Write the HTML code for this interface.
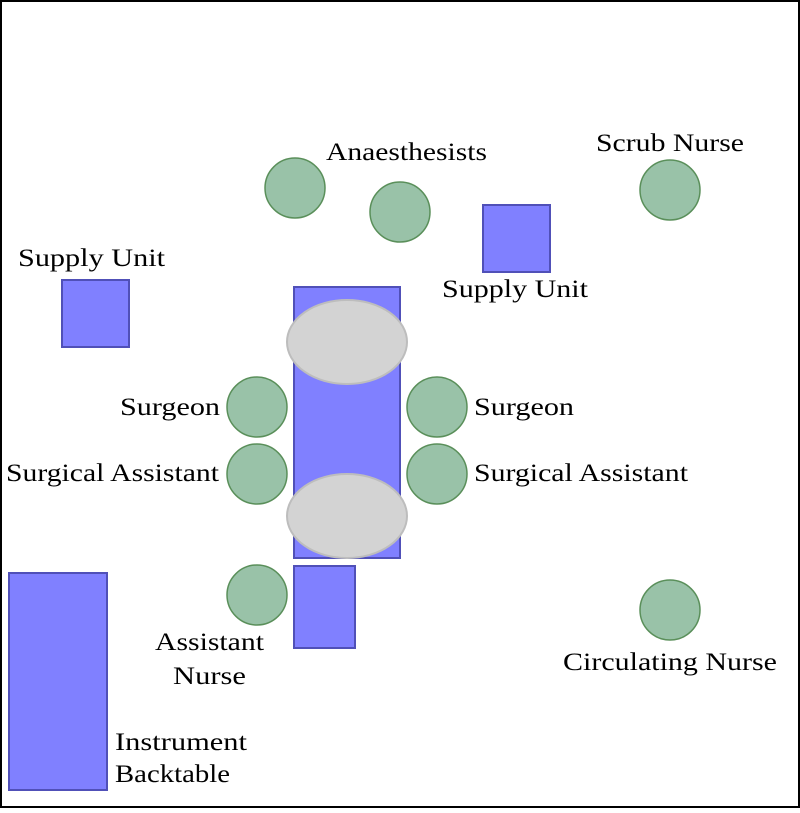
<!DOCTYPE html>
<html><head><style>body{margin:0;background:#fff}</style></head><body>
<svg width="800" height="808" viewBox="0 0 800 808" xmlns="http://www.w3.org/2000/svg" font-family="Liberation Serif, serif" font-size="25" fill="#000">
<rect x="1" y="1" width="798" height="806" fill="#fff" stroke="#000" stroke-width="2"/>
<g fill="#8080ff" stroke="#5050b8" stroke-width="2">
<rect x="294" y="287" width="106" height="271"/>
<rect x="483" y="205" width="67" height="67"/>
<rect x="62" y="280" width="67" height="67"/>
<rect x="294" y="566" width="61" height="82"/>
<rect x="9" y="573" width="98" height="217"/>
</g>
<g fill="#d3d3d3" stroke="#bdbdbd" stroke-width="2">
<ellipse cx="347" cy="342" rx="60" ry="42"/>
<ellipse cx="347" cy="516" rx="60" ry="42"/>
</g>
<g fill="#99c2a8" stroke="#5a8f5a" stroke-width="1.5">
<circle cx="295" cy="188" r="30"/>
<circle cx="400" cy="212" r="30"/>
<circle cx="670" cy="190" r="30"/>
<circle cx="257" cy="407" r="30"/>
<circle cx="437" cy="407" r="30"/>
<circle cx="257" cy="474" r="30"/>
<circle cx="437" cy="474" r="30"/>
<circle cx="257" cy="595" r="30"/>
<circle cx="670" cy="610" r="30"/>
</g>
<text x="326" y="160" textLength="161" lengthAdjust="spacingAndGlyphs">Anaesthesists</text>
<text x="596" y="151" textLength="148" lengthAdjust="spacingAndGlyphs">Scrub Nurse</text>
<text x="18" y="266" textLength="147" lengthAdjust="spacingAndGlyphs">Supply Unit</text>
<text x="442" y="297" textLength="146" lengthAdjust="spacingAndGlyphs">Supply Unit</text>
<text x="120" y="415" textLength="100" lengthAdjust="spacingAndGlyphs">Surgeon</text>
<text x="474" y="415" textLength="100" lengthAdjust="spacingAndGlyphs">Surgeon</text>
<text x="6" y="481" textLength="213" lengthAdjust="spacingAndGlyphs">Surgical Assistant</text>
<text x="474" y="481" textLength="214" lengthAdjust="spacingAndGlyphs">Surgical Assistant</text>
<text x="155" y="650" textLength="109" lengthAdjust="spacingAndGlyphs">Assistant</text>
<text x="173" y="684" textLength="73" lengthAdjust="spacingAndGlyphs">Nurse</text>
<text x="563" y="670" textLength="214" lengthAdjust="spacingAndGlyphs">Circulating Nurse</text>
<text x="115" y="750" textLength="132" lengthAdjust="spacingAndGlyphs">Instrument</text>
<text x="115" y="782" textLength="115" lengthAdjust="spacingAndGlyphs">Backtable</text>
</svg>
</body></html>
